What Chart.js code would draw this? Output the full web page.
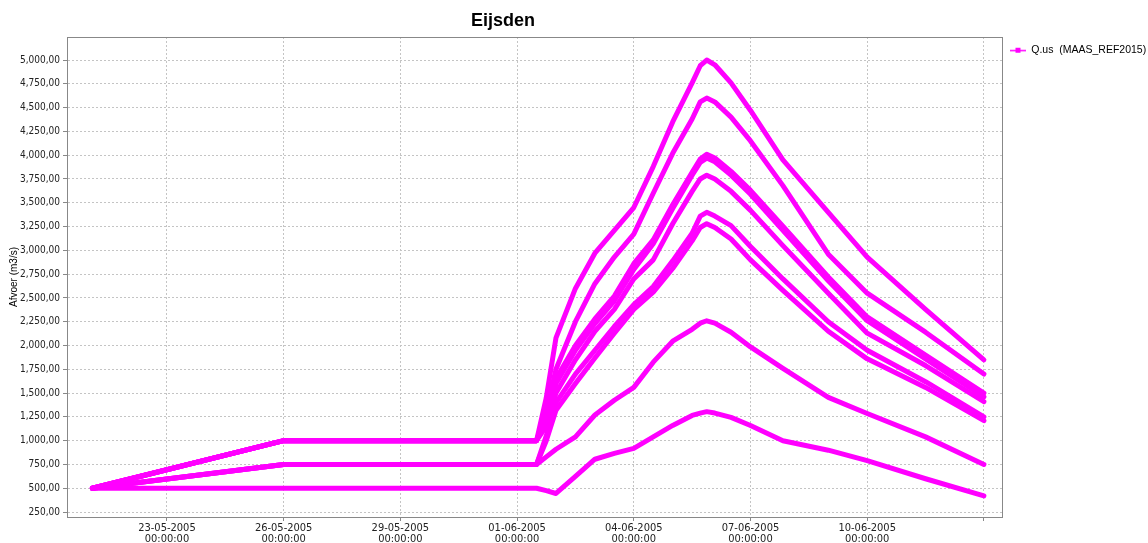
<!DOCTYPE html>
<html>
<head>
<meta charset="utf-8">
<title>Eijsden</title>
<script src="https://cdn.jsdelivr.net/npm/chart.js@4.4.1/dist/chart.umd.min.js"></script>
<style>
  html, body { margin: 0; padding: 0; background: #fff; }
  #wrap { width: 1148px; height: 543px; position: relative; }
</style>
</head>
<body>
<div id="wrap"><canvas id="afvoerChart"></canvas></div>
<script>
// tijdstippen (dd-mm-yyyy hh:mm)
const tijden = [
  "21-05-2005 02:00", "26-05-2005 00:00", "01-06-2005 12:00", "01-06-2005 18:00",
  "02-06-2005 00:00", "02-06-2005 12:00", "03-06-2005 00:00", "03-06-2005 12:00",
  "04-06-2005 00:00", "04-06-2005 12:00", "05-06-2005 00:00", "05-06-2005 12:00",
  "05-06-2005 17:00", "05-06-2005 21:00", "06-06-2005 02:00", "06-06-2005 12:00",
  "07-06-2005 00:00", "07-06-2005 20:00", "09-06-2005 00:00", "10-06-2005 00:00",
  "11-06-2005 12:00", "13-06-2005 00:00",
];

// afvoer (m3/s) per scenario
const q5000 = [500, 1000, 1000, 1450, 2080, 2600, 2970, 3210, 3450, 3880, 4350, 4760, 4940, 5000, 4950, 4760, 4470, 3950, 3400, 2930, 2380, 1850];
const q4600 = [500, 1000, 1000, 1300, 1750, 2250, 2650, 2930, 3170, 3600, 4020, 4380, 4560, 4600, 4560, 4400, 4150, 3680, 2960, 2550, 2140, 1700];
const q4000a = [500, 1000, 1000, 1250, 1650, 2000, 2280, 2520, 2860, 3110, 3480, 3820, 3960, 4010, 3970, 3830, 3630, 3255, 2720, 2300, 1900, 1500];
const q4000b = [500, 1000, 1000, 1220, 1600, 1950, 2230, 2470, 2800, 3070, 3440, 3790, 3925, 3970, 3930, 3790, 3590, 3210, 2680, 2260, 1860, 1460];
const q3800 = [500, 1000, 1000, 1150, 1500, 1850, 2150, 2380, 2700, 2900, 3280, 3620, 3750, 3790, 3750, 3620, 3420, 3050, 2550, 2130, 1790, 1410];
const q3400 = [500, 750, 750, 1050, 1400, 1700, 1950, 2200, 2430, 2620, 2890, 3180, 3360, 3400, 3360, 3260, 3040, 2700, 2250, 1950, 1620, 1250];
const q3270 = [500, 750, 750, 1000, 1320, 1600, 1870, 2130, 2380, 2560, 2810, 3100, 3240, 3280, 3240, 3120, 2900, 2580, 2150, 1860, 1560, 1210];
const q2260 = [500, 750, 750, 830, 910, 1040, 1270, 1425, 1560, 1825, 2045, 2170, 2235, 2260, 2235, 2140, 1985, 1760, 1455, 1285, 1040, 750];
const q1300 = [500, 500, 500, 475, 445, 625, 805, 866, 920, 1040, 1160, 1265, 1290, 1305, 1290, 1245, 1160, 1000, 900, 790, 600, 420];

const series = [q5000, q4600, q4000a, q4000b, q3800, q3400, q3270, q2260, q1300];

// as-labels
const yTicks = [250, 500, 750, 1000, 1250, 1500, 1750, 2000, 2250, 2500, 2750, 3000, 3250, 3500, 3750, 4000, 4250, 4500, 4750, 5000];
const xTicks = ["23-05-2005 00:00", "26-05-2005 00:00", "29-05-2005 00:00", "01-06-2005 00:00",
  "04-06-2005 00:00", "07-06-2005 00:00", "10-06-2005 00:00", "13-06-2005 00:00"];
const xMin = "20-05-2005 10:20";
const xMax = "13-06-2005 11:10";

const legendLabel = "Q.us  (MAAS_REF2015)";
const kleur = "#ff00ff";

function naarMs(s) {
  const [d, t] = s.split(" ");
  const [dd, mm, yyyy] = d.split("-").map(Number);
  const [hh, mi] = t.split(":").map(Number);
  return Date.UTC(yyyy, mm - 1, dd, hh, mi);
}

function pad(n) {
  return String(n).padStart(2, "0");
}

function formatDatum(ms) {
  const d = new Date(ms);
  return [
    `${pad(d.getUTCDate())}-${pad(d.getUTCMonth() + 1)}-${d.getUTCFullYear()}`,
    `${pad(d.getUTCHours())}:${pad(d.getUTCMinutes())}:00`,
  ];
}

function formatAfvoer(v) {
  return Math.round(v).toLocaleString("en-US") + ",00";
}

// legend marker: line with a small square
const marker = document.createElement("canvas");
marker.width = 16;
marker.height = 7;
(function () {
  const c = marker.getContext("2d");
  c.fillStyle = kleur;
  c.fillRect(0, 3, 16, 1.5);
  c.fillRect(5.5, 1, 5, 5);
})();

const kaderPlugin = {
  id: "kader",
  afterLayout(chart) {
    // title centred over chart minus legend, like the original
    if (chart.titleBlock) {
      chart.titleBlock.left = 0;
      chart.titleBlock.right = 1006;
    }
  },
  afterDraw(chart) {
    const { ctx, chartArea: a } = chart;
    ctx.save();
    ctx.strokeStyle = "#888";
    ctx.lineWidth = 1;
    ctx.strokeRect(Math.round(a.left) + 0.5, Math.round(a.top) + 0.5, Math.round(a.right - a.left), Math.round(a.bottom - a.top));
    ctx.restore();
  },
};

const tijdMs = tijden.map(naarMs);

const datasets = series.map((s) => ({
  label: legendLabel,
  data: s.map((v, i) => ({ x: tijdMs[i], y: v })),
  borderColor: kleur,
  backgroundColor: kleur,
  borderWidth: 5,
  pointRadius: 0,
  fill: false,
  tension: 0,
  borderJoinStyle: "round",
  borderCapStyle: "round",
}));

const tickFont = { family: "'Liberation Sans Narrow', 'DejaVu Sans Condensed', sans-serif", size: 10 };

new Chart(document.getElementById("afvoerChart"), {
  type: "line",
  data: { datasets },
  plugins: [kaderPlugin],
  options: {
    responsive: true,
    maintainAspectRatio: false,
    animation: false,
    layout: { padding: 0 },
    plugins: {
      title: {
        display: true,
        text: "Eijsden",
        fullSize: false,
        color: "#000",
        font: { family: "'Liberation Sans', sans-serif", size: 18, weight: "bold" },
        padding: { top: 10, bottom: 5.4 },
      },
      legend: {
        position: "right",
        align: "start",
        fullSize: false,
        maxWidth: 146,
        labels: {
          filter: (item) => item.datasetIndex === 0,
          usePointStyle: true,
          pointStyle: marker,
          pointStyleWidth: 16,
          padding: 8,
          color: "#000",
          font: { family: "'Liberation Sans', sans-serif", size: 10.5 },
        },
      },
      tooltip: { enabled: false },
    },
    scales: {
      x: {
        type: "linear",
        min: naarMs(xMin),
        max: naarMs(xMax),
        afterBuildTicks: (scale) => {
          scale.ticks = xTicks.map((t) => ({ value: naarMs(t) }));
        },
        afterFit: (scale) => {
          scale.height = 26;
        },
        ticks: {
          autoSkip: false,
          maxRotation: 0,
          padding: 2,
          color: "#222",
          font: { ...tickFont, size: 11, lineHeight: 1 },
          callback: (v, i) => (i === xTicks.length - 1 ? "" : formatDatum(v)),
        },
        grid: {
          color: "#c4c4c4",
          tickLength: 4,
          tickColor: "#888",
        },
        border: { color: "#888", dash: [2, 2] },
      },
      y: {
        min: 198,
        max: 5242,
        afterBuildTicks: (scale) => {
          scale.ticks = yTicks.map((v) => ({ value: v }));
        },
        afterFit: (scale) => {
          scale.width = 67;
        },
        title: {
          display: true,
          text: "Afvoer (m3/s)",
          color: "#000",
          font: { family: "'Liberation Sans', sans-serif", size: 10 },
          padding: { top: 8, bottom: 0 },
        },
        ticks: {
          padding: 3,
          color: "#222",
          font: tickFont,
          callback: (v) => formatAfvoer(v),
        },
        grid: {
          color: "#c4c4c4",
          tickLength: 4,
          tickColor: "#888",
        },
        border: { color: "#888", dash: [2, 2] },
      },
    },
  },
});
</script>
</body>
</html>
